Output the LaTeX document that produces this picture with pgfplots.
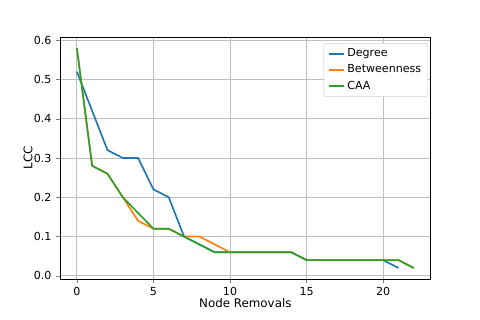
\documentclass[border=0pt]{standalone}
\usepackage{fontspec}
\setmainfont{DejaVu Sans}
\usepackage{pgfplots}
\pgfplotsset{compat=1.18}
\definecolor{tabblue}{HTML}{1F77B4}
\definecolor{taborange}{HTML}{FF7F0E}
\definecolor{tabgreen}{HTML}{2CA02C}
\begin{document}
\begin{tikzpicture}
\begin{axis}[
    at={(0,0)}, anchor=south west,
    scale only axis,
    width=278pt, height=181.5pt,
    xmin=-1.1, xmax=23.1,
    ymin=-0.008, ymax=0.608,
    xtick={0,5,10,15,20},
    ytick={0,0.1,0.2,0.3,0.4,0.5,0.6},
    yticklabel style={/pgf/number format/fixed,/pgf/number format/fixed zerofill,/pgf/number format/precision=1},
    /pgf/number format/assume math mode=true,
    tick label style={font=\fontsize{8.3}{9}\selectfont},
    label style={font=\fontsize{8.9}{11}\selectfont},
    xlabel={Node Removals},
    ylabel={LCC},
    xlabel style={yshift=5pt},
    ylabel style={yshift=-6pt},
    tick align=outside,
    tick pos=left,
    major tick length=2.9pt,
    grid=major,
    grid style={color=black!25, line width=0.6pt},
    axis line style={line width=0.6pt},
    legend style={at={(0.993,0.975)}, anchor=north east, draw=black!20, rounded corners=2pt,
        font=\fontsize{8.3}{10}\selectfont, cells={anchor=west}, row sep=0.6pt},
    legend cell align=left,
    legend image code/.code={\draw[#1, line width=1.3pt] plot coordinates {(0cm,0cm) (0.4cm,0cm)};},
    every axis plot/.append style={line width=1.25pt},
]
\addplot[tabblue] coordinates {(0,0.52) (1,0.42) (2,0.32) (3,0.30) (4,0.30) (5,0.22) (6,0.20) (7,0.10) (8,0.08) (9,0.06) (10,0.06) (11,0.06) (12,0.06) (13,0.06) (14,0.06) (15,0.04) (16,0.04) (17,0.04) (18,0.04) (19,0.04) (20,0.04) (21,0.02)};
\addlegendentry{Degree}
\addplot[taborange] coordinates {(0,0.58) (1,0.28) (2,0.26) (3,0.20) (4,0.14) (5,0.12) (6,0.12) (7,0.10) (8,0.10) (9,0.08) (10,0.06) (11,0.06) (12,0.06) (13,0.06) (14,0.06) (15,0.04) (16,0.04) (17,0.04) (18,0.04) (19,0.04) (20,0.04) (21,0.04) (22,0.02)};
\addlegendentry{Betweenness}
\addplot[tabgreen] coordinates {(0,0.58) (1,0.28) (2,0.26) (3,0.20) (4,0.16) (5,0.12) (6,0.12) (7,0.10) (8,0.08) (9,0.06) (10,0.06) (11,0.06) (12,0.06) (13,0.06) (14,0.06) (15,0.04) (16,0.04) (17,0.04) (18,0.04) (19,0.04) (20,0.04) (21,0.04) (22,0.02)};
\addlegendentry{CAA}
\end{axis}
\path[use as bounding box] (-45pt,-30.75pt) rectangle (315pt,209.25pt);
\end{tikzpicture}
\end{document}
